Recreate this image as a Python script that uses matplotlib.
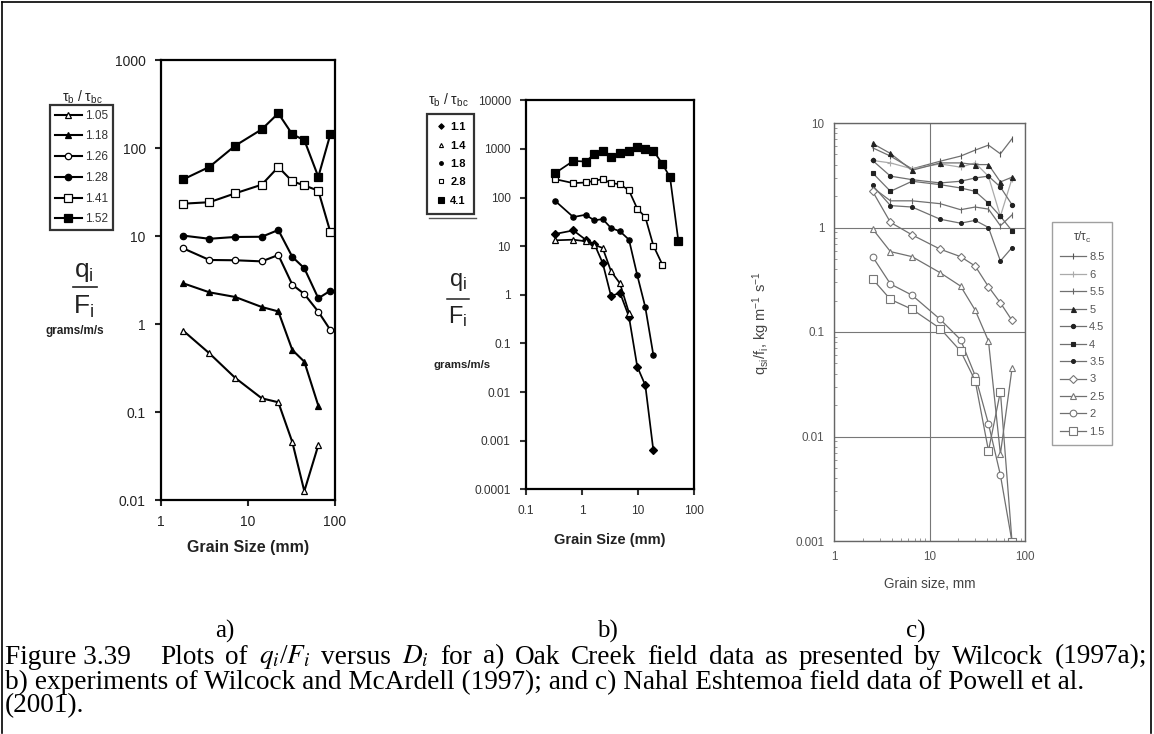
import matplotlib
matplotlib.use("Agg")
import matplotlib.pyplot as plt
from matplotlib.lines import Line2D
from matplotlib.ticker import FixedLocator, FixedFormatter, LogLocator, NullFormatter

plt.rcParams["font.family"] = ["Liberation Sans", "DejaVu Sans"]
plt.rcParams["mathtext.fontset"] = "custom"
plt.rcParams["mathtext.rm"] = "Liberation Sans"
plt.rcParams["mathtext.it"] = "Liberation Sans:italic"
plt.rcParams["mathtext.bf"] = "Liberation Sans:bold"

W, H, DPI = 1154, 734, 100

# ---------------- a) Oak Creek (Wilcock 1997a) ----------------
A_SIZE = [1.8, 3.6, 7.1, 14.4, 22.3, 32.3, 44.4, 64.3, 88.4]
A_LABELS = ["1.05", "1.18", "1.26", "1.28", "1.41", "1.52"]
A_105 = [0.84, 0.464, 0.245, 0.143, 0.129, 0.0456, 0.0126, 0.042]
A_118 = [2.90, 2.29, 2.03, 1.56, 1.39, 0.507, 0.373, 0.118]
A_126 = [7.24, 5.34, 5.30, 5.15, 6.08, 2.80, 2.19, 1.38, 0.855]
A_128 = [10.1, 9.3, 9.75, 9.8, 11.7, 5.8, 4.3, 1.96, 2.39]
A_141 = [23.3, 24.2, 30.5, 38.3, 60.8, 41.8, 37.6, 32.7, 11.1]
A_152 = [44, 61, 106, 163, 248, 143, 123, 47, 143]
A_TICKS_X = [1, 10, 100]
A_TICKS_Y = [0.01, 0.1, 1, 10, 100, 1000]
A_TICKLABELS_Y = ["0.01", "0.1", "1", "10", "100", "1000"]

# ---------------- b) Wilcock & McArdell (1997) ----------------
B_SIZE = [0.33, 0.70, 1.16, 1.66, 2.34, 3.30, 4.77, 6.9, 9.7, 13.5, 18.8, 27.2, 37.3, 52.5]
B_LABELS = ["1.1", "1.4", "1.8", "2.8", "4.1"]
B_11 = [17.8, 21.1, 13.6, 11.1, 4.52, 0.94, 1.10, 0.353, 0.0333, 0.0138, 0.00063]
B_14 = [13.2, 13.6, 12.6, 10.7, 9.18, 3.05, 1.71, 0.427]
B_18 = [85.8, 39.7, 44.3, 33.9, 36.1, 23.6, 20.2, 13.6, 2.53, 0.557, 0.0578]
B_28 = [239, 198, 204, 221, 239, 198, 188, 140, 58.9, 39.7, 10.3, 4.18]
B_41 = [317, 567, 550, 778, 925, 697, 841, 896, 1117, 1016, 925, 492, 262, 13.0]
B_TICKS_X = [0.1, 1, 10, 100]
B_TICKLABELS_X = ["0.1", "1", "10", "100"]
B_TICKS_Y = [1e-4, 1e-3, 1e-2, 0.1, 1, 10, 100, 1000, 10000]
B_TICKLABELS_Y = ["0.0001", "0.001", "0.01", "0.1", "1", "10", "100", "1000", "10000"]

# ---------------- c) Nahal Eshtemoa (Powell et al. 2001) ----------------
C_SIZE = [2.52, 3.88, 6.54, 12.9, 21.1, 30.0, 41.4, 55.2, 73.1]
C_LABELS = ["8.5", "6", "5.5", "5", "4.5", "4", "3.5", "3", "2.5", "2", "1.5"]
C_85 = [5.79, 4.82, 3.64, 4.31, 4.82, 5.50, 6.14, 5.07, 7.07]
C_60 = [4.38, 4.15, 3.64, 4.06, 3.78, 4.15, 3.09, 1.28, 2.94]
C_55 = [2.42, 1.80, 1.80, 1.69, 1.48, 1.57, 1.50, 1.04, 1.32]
C_50 = [6.37, 5.11, 3.53, 4.15, 4.15, 4.00, 4.00, 2.73, 3.03]
C_45 = [4.38, 3.10, 2.87, 2.67, 2.77, 2.98, 3.10, 2.44, 1.65]
C_40 = [3.33, 2.22, 2.77, 2.57, 2.39, 2.22, 1.71, 1.28, 0.93]
C_35 = [2.53, 1.62, 1.57, 1.20, 1.10, 1.17, 1.00, 0.478, 0.643]
C_30 = [2.22, 1.12, 0.85, 0.62, 0.526, 0.428, 0.271, 0.190, 0.129]
C_25 = [0.97, 0.588, 0.526, 0.369, 0.275, 0.162, 0.082, 0.0068, 0.0448]
C_20 = [0.526, 0.288, 0.225, 0.132, 0.0845, 0.0383, 0.0132, 0.00428, 0.00098]
C_15 = [0.321, 0.205, 0.165, 0.108, 0.0657, 0.0343, 0.0073, 0.0269, 0.00098]
C_TICKS_X = [1, 10, 100]
C_TICKS_Y = [0.001, 0.01, 0.1, 1, 10]
C_TICKLABELS_Y = ["0.001", "0.01", "0.1", "1", "10"]

fig = plt.figure(figsize=(W / DPI, H / DPI), dpi=DPI)


def px_box(left, top, right, bottom):
    return [left / W, 1 - bottom / H, (right - left) / W, (bottom - top) / H]


def fx(x):
    return x / W


def fy(y):
    return 1 - y / H


# frame around the figure
for xs, ys in [([2, 1151], [2, 2]), ([2, 2], [2, 733]), ([1151, 1151], [2, 733])]:
    fig.add_artist(Line2D([fx(v) for v in xs], [fy(v) for v in ys], color="black", lw=1.2))

# ======================= panel a =======================
axa = fig.add_axes(px_box(161, 60, 335, 500))
axa.set_xscale("log")
axa.set_yscale("log")
axa.set_xlim(1, 100)
axa.set_ylim(0.01, 1000)
a_series = [A_105, A_118, A_126, A_128, A_141, A_152]
a_marks = [("^", "white"), ("^", "black"), ("o", "white"), ("o", "black"), ("s", "white"), ("s", "black")]
a_handles = []
for vals, (m, fc), lab in zip(a_series, a_marks, A_LABELS):
    ln, = axa.plot(A_SIZE[:len(vals)], vals, color="black", lw=1.5, marker=m,
                   ms=5.2 if m == "s" else 4.6, mfc=fc, mec="black", mew=0.9, label=lab)
    a_handles.append(ln)
for s in axa.spines.values():
    s.set_linewidth(1.6)
axa.xaxis.set_major_locator(FixedLocator(A_TICKS_X))
axa.xaxis.set_major_formatter(FixedFormatter(["1", "10", "100"]))
axa.yaxis.set_major_locator(FixedLocator(A_TICKS_Y))
axa.yaxis.set_major_formatter(FixedFormatter(A_TICKLABELS_Y))
axa.xaxis.set_minor_locator(FixedLocator([]))
axa.yaxis.set_minor_locator(FixedLocator([]))
axa.tick_params(direction="out", length=4, width=1.5, labelsize=10, colors="#222", pad=7)
axa.set_xlabel("Grain Size (mm)", fontsize=11.5, fontweight="bold", color="#222", labelpad=8)

fig.text(fx(82), fy(97), r"τ$_\mathrm{b}$ / τ$_\mathrm{bc}$", fontsize=10, ha="center", va="center", color="#222")
lega = fig.legend(a_handles, A_LABELS, loc="upper left",
                  bbox_to_anchor=(fx(50), fy(105)), frameon=True, fancybox=False,
                  edgecolor="black", fontsize=8.5, handlelength=2.3, handletextpad=0.3,
                  labelspacing=0.74, borderpad=0.4, borderaxespad=0, numpoints=1)
lega.get_frame().set_linewidth(1.6)
for t in lega.get_texts():
    t.set_color("#333")
fig.text(fx(84), fy(272), r"q$_\mathrm{i}$", fontsize=19, ha="center", va="center", color="#222")
fig.add_artist(Line2D([fx(73), fx(97)], [fy(287), fy(287)], color="#222", lw=1.2))
fig.text(fx(84), fy(307), r"F$_\mathrm{i}$", fontsize=19, ha="center", va="center", color="#222")
fig.text(fx(75), fy(331), "grams/m/s", fontsize=8.5, fontweight="bold", ha="center", va="center", color="#222")

# ======================= panel b =======================
axb = fig.add_axes(px_box(526, 100.3, 694, 489.3))
axb.set_xscale("log")
axb.set_yscale("log")
axb.set_xlim(0.1, 100)
axb.set_ylim(1e-4, 1e4)
b_series = [B_11, B_14, B_18, B_28, B_41]
b_marks = [("D", "black", 4.0), ("^", "white", 4.2), ("o", "black", 3.8), ("s", "white", 4.8), ("s", "black", 5.2)]
b_proxies = []
for vals, (m, fc, ms), lab in zip(b_series, b_marks, B_LABELS):
    axb.plot(B_SIZE[:len(vals)], vals, color="black", lw=1.25, marker=m, ms=ms,
             mfc=fc, mec="black", mew=0.9)
    b_proxies.append(Line2D([], [], ls="none", marker=m, ms=ms * 0.7, mfc=fc, mec="black", mew=0.8))
for s in axb.spines.values():
    s.set_linewidth(1.6)
axb.xaxis.set_major_locator(FixedLocator(B_TICKS_X))
axb.xaxis.set_major_formatter(FixedFormatter(B_TICKLABELS_X))
axb.yaxis.set_major_locator(FixedLocator(B_TICKS_Y))
axb.yaxis.set_major_formatter(FixedFormatter(B_TICKLABELS_Y))
axb.xaxis.set_minor_locator(FixedLocator([]))
axb.yaxis.set_minor_locator(FixedLocator([]))
axb.tick_params(direction="out", length=4, width=1.5, labelsize=8.6, colors="#333", pad=7)
axb.set_xlabel("Grain Size (mm)", fontsize=10.5, fontweight="bold", color="#222", labelpad=12)

fig.text(fx(428), fy(100), r"τ$_\mathrm{b}$ / τ$_\mathrm{bc}$", fontsize=10, ha="left", va="center", color="#222")
legb = fig.legend(b_proxies, B_LABELS, loc="upper left",
                  bbox_to_anchor=(fx(427), fy(114)), frameon=True, fancybox=False,
                  edgecolor="black", handlelength=1.0, handletextpad=0.35,
                  labelspacing=0.75, borderpad=0.75, borderaxespad=0, numpoints=1,
                  prop={"weight": "bold", "size": 8})
legb.get_frame().set_linewidth(1.6)
fig.add_artist(Line2D([fx(429), fx(476)], [fy(218), fy(218)], color="#555", lw=1.0))
fig.text(fx(458), fy(282), r"q$_\mathrm{i}$", fontsize=17, ha="center", va="center", color="#222")
fig.add_artist(Line2D([fx(447), fx(469)], [fy(299), fy(299)], color="#222", lw=1.1))
fig.text(fx(458), fy(317), r"F$_\mathrm{i}$", fontsize=17, ha="center", va="center", color="#222")
fig.text(fx(462), fy(365), "grams/m/s", fontsize=8.2, fontweight="bold", ha="center", va="center", color="#222")

# ======================= panel c =======================
axc = fig.add_axes(px_box(834.3, 123, 1025, 541))
axc.set_xscale("log")
axc.set_yscale("log")
axc.set_xlim(1, 100)
axc.set_ylim(0.001, 10)
c_series = [C_85, C_60, C_55, C_50, C_45, C_40, C_35, C_30, C_25, C_20, C_15]
c_marks = [("|", "#555", "#555", 4.5), ("+", "#aaa", "#aaa", 4.5), ("|", "#666", "#666", 4.5),
           ("^", "#222", "#222", 3.6), ("o", "#222", "#222", 3.0), ("s", "#222", "#222", 3.0),
           ("o", "#222", "#222", 2.8), ("D", "white", "#777", 4.0), ("^", "white", "#777", 4.8),
           ("o", "white", "#777", 4.8), ("s", "white", "#777", 5.2)]
c_handles = []
for vals, (m, fc, ec, ms), lab in zip(c_series, c_marks, C_LABELS):
    lc = "#aaa" if lab == "6" else "#707070"
    ln, = axc.plot(C_SIZE, vals, color=lc, lw=0.9, marker=m, ms=ms, mfc=fc, mec=ec, mew=0.8, label=lab)
    c_handles.append(ln)
for s in axc.spines.values():
    s.set_linewidth(1.0)
    s.set_color("#666")
axc.xaxis.set_major_locator(FixedLocator(C_TICKS_X))
axc.xaxis.set_major_formatter(FixedFormatter(["1", "10", "100"]))
axc.yaxis.set_major_locator(FixedLocator(C_TICKS_Y))
axc.yaxis.set_major_formatter(FixedFormatter(C_TICKLABELS_Y))
axc.xaxis.set_minor_locator(LogLocator(base=10, subs=range(2, 10)))
axc.yaxis.set_minor_locator(LogLocator(base=10, subs=range(2, 10)))
axc.xaxis.set_minor_formatter(NullFormatter())
axc.yaxis.set_minor_formatter(NullFormatter())
axc.tick_params(which="major", direction="in", length=0, labelsize=8.4, colors="#555", pad=7)
axc.tick_params(which="minor", direction="in", length=2, width=0.6, colors="#888")
axc.grid(which="major", color="#777", lw=0.8)
axc.set_xlabel("Grain size, mm", fontsize=9.8, color="#444", labelpad=10)
axc.set_ylabel(r"q$_\mathrm{si}$/f$_\mathrm{i}$, kg m$^\mathrm{-1}$ s$^\mathrm{-1}$", fontsize=10.5, color="#444")
axc.yaxis.set_label_coords(-0.325, 0.52)

legc = fig.legend(c_handles, C_LABELS, loc="upper left", title=r"τ/τ$_\mathrm{c}$",
                  bbox_to_anchor=(fx(1052), fy(222)), frameon=True, fancybox=False,
                  edgecolor="#888", fontsize=8, title_fontsize=8.5, handlelength=2.35,
                  handletextpad=0.3, labelspacing=0.67, borderpad=0.7, borderaxespad=0,
                  numpoints=1)
legc.get_frame().set_linewidth(1.0)
for t in legc.get_texts():
    t.set_color("#555")
legc.get_title().set_color("#444")

# ======================= panel letters and caption =======================
serif = ["Liberation Serif", "DejaVu Serif"]
for x, s in [(225, "a)"), (607, "b)"), (916, "c)")]:
    fig.text(fx(x), fy(631), s, fontsize=18, family=serif, ha="center", va="center")

cap_kw = dict(fontsize=19.6, family=serif, va="center", ha="left", math_fontfamily="stix")
fig.text(fx(5), fy(657), "Figure 3.39", **cap_kw)

# first caption line is justified between the tab stop and the right margin
line1 = r"Plots of $q_i$/$F_i$ versus $D_i$ for a) Oak Creek field data as presented by Wilcock (1997a);"
words = line1.split(" ")
renderer = fig.canvas.get_renderer()
word_texts = [fig.text(0, fy(657), w, **cap_kw) for w in words]
widths = [t.get_window_extent(renderer).width for t in word_texts]
left_px, right_px = 160, 1147
gap = (right_px - left_px - sum(widths)) / (len(words) - 1)
xpos = left_px
for t, wd in zip(word_texts, widths):
    t.set_x(fx(xpos))
    xpos += wd + gap

fig.text(fx(5), fy(682), "b) experiments of Wilcock and McArdell (1997); and c) Nahal Eshtemoa field data of Powell et al.", **cap_kw)
fig.text(fx(5), fy(706), "(2001).", **cap_kw)

fig.savefig("out.png", dpi=DPI)
